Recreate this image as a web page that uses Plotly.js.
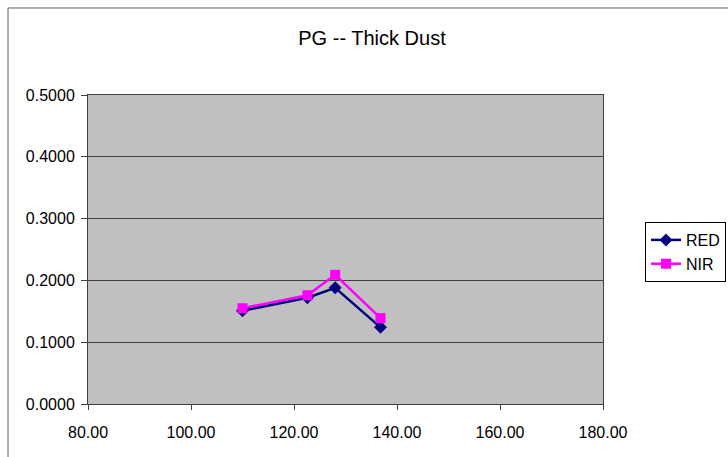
<!DOCTYPE html>
<html><head><meta charset="utf-8">
<script src="https://cdn.plot.ly/plotly-3.0.1.min.js"></script>
<style>html,body{margin:0;padding:0;background:#fff;}#chart{width:728px;height:457px;}</style>
</head><body><div id="chart"></div>
<script>
const xValues = [110, 122.6, 128, 136.8];
const redValues = [0.151, 0.172, 0.188, 0.124];
const nirValues = [0.155, 0.176, 0.209, 0.139];
const seriesNames = ['RED', 'NIR'];
const xTicks = [80, 100, 120, 140, 160, 180];
const yTicks = [0, 0.1, 0.2, 0.3, 0.4, 0.5];

const data = [
  {x: xValues, y: redValues, name: seriesNames[0], type: 'scatter', mode: 'lines+markers',
   line: {color: '#000080', width: 2.5}, marker: {symbol: 'diamond', size: 10, color: '#000080'}},
  {x: xValues, y: nirValues, name: seriesNames[1], type: 'scatter', mode: 'lines+markers',
   line: {color: '#ff00ff', width: 2.5}, marker: {symbol: 'square', size: 10, color: '#ff00ff'}}
];
const font = {family: 'Liberation Sans, Arial, sans-serif', color: '#000'};
const layout = {
  width: 728, height: 457,
  margin: {l: 88, r: 125, t: 95, b: 53, autoexpand: false},
  paper_bgcolor: '#fff', plot_bgcolor: '#c0c0c0',
  title: {text: 'PG -- Thick Dust', font: Object.assign({size: 20}, font), x: 372 / 728, xanchor: 'center', y: 1 - 38/457, yanchor: 'middle'},
  xaxis: {range: [80, 180], tickvals: xTicks, tickformat: '.2f', showgrid: false, zeroline: false,
    showline: true, linecolor: '#404040', linewidth: 1, mirror: true, ticks: 'outside', ticklen: 5, tickcolor: '#404040',
    ticklabelstandoff: 9, tickfont: Object.assign({size: 16}, font)},
  yaxis: {range: [0, 0.5], tickvals: yTicks, tickformat: '.4f', showgrid: true, gridcolor: '#404040', gridwidth: 1, zeroline: false,
    showline: true, linecolor: '#404040', linewidth: 1, mirror: true, ticks: 'outside', ticklen: 6, tickcolor: '#404040',
    ticklabelstandoff: 3, tickfont: Object.assign({size: 16}, font)},
  legend: {x: 1.0816, y: 0.589, xanchor: 'left', yanchor: 'top', bordercolor: '#000', borderwidth: 1,
    bgcolor: '#fff', font: Object.assign({size: 16}, font), tracegroupgap: 0},
  showlegend: true,
  shapes: [
    {type: 'line', xref: 'paper', yref: 'paper', x0: -0.1553, x1: -0.1553, y0: -0.1715, y1: 1.2816, line: {color: '#606060', width: 1}},
    {type: 'line', xref: 'paper', yref: 'paper', x0: -0.1553, x1: 1.2427, y0: 1.2816, y1: 1.2816, line: {color: '#606060', width: 1}}
  ]
};
Plotly.newPlot('chart', data, layout, {displayModeBar: false, staticPlot: true});
</script></body></html>
